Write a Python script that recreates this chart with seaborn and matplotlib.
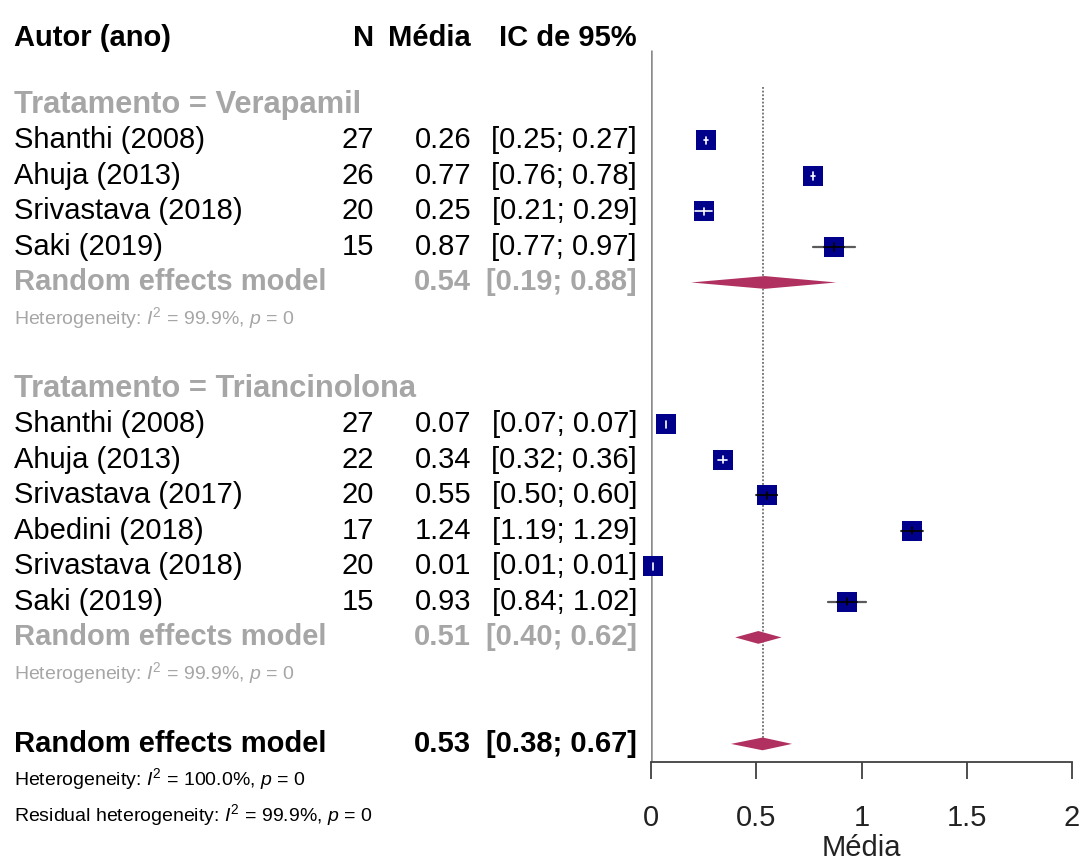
import matplotlib
matplotlib.use("Agg")
import matplotlib.pyplot as plt
import seaborn as sns
import pandas as pd
from matplotlib.transforms import blended_transform_factory

# ---- data -------------------------------------------------------------
vera_authors = ["Shanthi (2008)", "Ahuja (2013)", "Srivastava (2018)", "Saki (2019)"]
vera_n = [27, 26, 20, 15]
vera_mean = [0.26, 0.77, 0.25, 0.87]
vera_lower = [0.25, 0.76, 0.21, 0.77]
vera_upper = [0.27, 0.78, 0.29, 0.97]

tri_authors = ["Shanthi (2008)", "Ahuja (2013)", "Srivastava (2017)",
               "Abedini (2018)", "Srivastava (2018)", "Saki (2019)"]
tri_n = [27, 22, 20, 17, 20, 15]
tri_mean = [0.07, 0.34, 0.55, 1.24, 0.01, 0.93]
tri_lower = [0.07, 0.32, 0.50, 1.19, 0.01, 0.84]
tri_upper = [0.07, 0.36, 0.60, 1.29, 0.01, 1.02]

group_names = ["Verapamil", "Triancinolona"]
group_pooled = [0.54, 0.51]
group_lower = [0.19, 0.40]
group_upper = [0.88, 0.62]
group_i2 = ["99.9%", "99.9%"]

overall_pooled = 0.53
overall_lower = 0.38
overall_upper = 0.67
overall_i2 = "100.0%"
residual_i2 = "99.9%"

x_ticks = [0, 0.5, 1, 1.5, 2]

# ---- style ------------------------------------------------------------
sns.set_theme(style="white")
plt.rcParams["font.family"] = ["Liberation Sans", "DejaVu Sans"]
plt.rcParams["mathtext.fontset"] = "custom"
plt.rcParams["mathtext.rm"] = "Liberation Sans"
plt.rcParams["mathtext.it"] = "Liberation Sans:italic"

SQUARE = "#00008B"
DIAMOND = "#B03060"
GREY_TXT = "#A6A6A6"
FS = 21
FS_GROUP = 22.2
FS_SMALL = 14

W, H = 1081, 863
fig = plt.figure(figsize=(W / 100, H / 100), dpi=100)
ax = fig.add_axes([651 / W, (H - 762) / H, 421 / W, 762 / H])

# ---- row layout -------------------------------------------------------
studies = []
text_rows = []
row = 0
blocks = [(vera_authors, vera_n, vera_mean, vera_lower, vera_upper),
          (tri_authors, tri_n, tri_mean, tri_lower, tri_upper)]
pooled_rows = []
for g, (auth, ns, mn, lo, hi) in enumerate(blocks):
    text_rows.append(("group", row, f"Tratamento = {group_names[g]}"))
    row += 1
    for a, n, m, l, u in zip(auth, ns, mn, lo, hi):
        studies.append(dict(author=a, n=n, mean=m, lower=l, upper=u, row=row))
        row += 1
    pooled_rows.append(row)
    row += 1
    text_rows.append(("het", row, group_i2[g]))
    row += 2
overall_row = row

df = pd.DataFrame(studies)

ROW_TOP = -2.958
ROW_BOTTOM = 18.51
ax.set_ylim(ROW_BOTTOM, ROW_TOP)
ax.set_xlim(0, 2)

# reference lines
ax.plot([0, 0], [-1.55, ROW_BOTTOM], color="#8c8c8c", lw=1.8, zorder=1,
        solid_capstyle="butt")
ax.plot([overall_pooled, overall_pooled], [-0.5, overall_row], color="#555555",
        lw=1.1, ls=(0, (1.2, 1.2)), zorder=1)

# confidence intervals and squares
half_w = 10 / 210.5
for _, r in df.iterrows():
    ax.plot([r["lower"], r["upper"]], [r["row"], r["row"]], color="#5a5a5a",
            lw=1.6, zorder=2, clip_on=False)
sns.scatterplot(data=df, x="mean", y="row", marker="s", s=207, color=SQUARE,
                linewidth=0, ax=ax, zorder=3, clip_on=False, legend=False)
for _, r in df.iterrows():
    inside = (r["upper"] - r["lower"]) / 2 < half_w
    c = "white" if inside else "black"
    l = max(r["lower"], r["mean"] - half_w)
    u = min(r["upper"], r["mean"] + half_w)
    ax.plot([l, u], [r["row"], r["row"]], color=c, lw=1.2, zorder=4, clip_on=False)
    ax.plot([r["mean"], r["mean"]], [r["row"] - 0.1, r["row"] + 0.1], color=c,
            lw=1.2, zorder=4, clip_on=False)

# diamonds
def diamond(est, lo, hi, y):
    ax.fill([lo, est, hi, est], [y, y - 0.18, y, y + 0.18], color=DIAMOND,
            lw=0, zorder=3, clip_on=False)

for g in range(2):
    diamond(group_pooled[g], group_lower[g], group_upper[g], pooled_rows[g])
diamond(overall_pooled, overall_lower, overall_upper, overall_row)

# axis
for s in ["top", "right", "left"]:
    ax.spines[s].set_visible(False)
ax.spines["bottom"].set_color("#404040")
ax.spines["bottom"].set_linewidth(1.3)
ax.set_yticks([])
ax.set_ylabel("")
ax.set_xticks(x_ticks)
ax.set_xticklabels(["0", "0.5", "1", "1.5", "2"])
ax.tick_params(axis="x", direction="out", length=12, width=1.3, color="#404040",
               labelsize=FS, pad=18, bottom=True, labelcolor="#222222")
ax.set_xlabel("Média", fontsize=FS, labelpad=2, color="#222222")

# ---- text columns ------------------------------------------------------
tr = blended_transform_factory(fig.transFigure, ax.transData)
X_LAB = 14 / W
X_N = 374 / W
X_M = 471 / W
X_CI = 637 / W

def put(x, y, s, ha="left", color="black", weight="normal", size=FS):
    ax.text(x, y, s, transform=tr, ha=ha, va="center", color=color,
            fontweight=weight, fontsize=size, clip_on=False)

HEAD = -1.9
put(X_LAB, HEAD, "Autor (ano)", weight="bold")
put(X_N, HEAD, "N", ha="right", weight="bold")
put(X_M, HEAD, "Média", ha="right", weight="bold")
put(X_CI, HEAD, "IC de 95%", ha="right", weight="bold")

for kind, r, s in text_rows:
    if kind == "group":
        put(X_LAB, r, s, color=GREY_TXT, weight="bold", size=FS_GROUP)
    else:
        put(X_LAB, r, rf"Heterogeneity: $I^2$ = {s}, $p$ = 0", color=GREY_TXT,
            size=FS_SMALL)

for _, r in df.iterrows():
    put(X_LAB, r["row"], r["author"])
    put(X_N, r["row"], f"{r['n']}", ha="right")
    put(X_M, r["row"], f"{r['mean']:.2f}", ha="right")
    put(X_CI, r["row"], f"[{r['lower']:.2f}; {r['upper']:.2f}]", ha="right")

for g in range(2):
    y = pooled_rows[g]
    put(X_LAB, y, "Random effects model", color=GREY_TXT, weight="bold")
    put(X_M, y, f"{group_pooled[g]:.2f}", ha="right", color=GREY_TXT, weight="bold")
    put(X_CI, y, f"[{group_lower[g]:.2f}; {group_upper[g]:.2f}]", ha="right",
        color=GREY_TXT, weight="bold")

put(X_LAB, overall_row, "Random effects model", weight="bold")
put(X_M, overall_row, f"{overall_pooled:.2f}", ha="right", weight="bold")
put(X_CI, overall_row, f"[{overall_lower:.2f}; {overall_upper:.2f}]", ha="right",
    weight="bold")
put(X_LAB, overall_row + 1, rf"Heterogeneity: $I^2$ = {overall_i2}, $p$ = 0",
    size=FS_SMALL)
put(X_LAB, overall_row + 2,
    rf"Residual heterogeneity: $I^2$ = {residual_i2}, $p$ = 0", size=FS_SMALL)

fig.savefig("out.png", dpi=100, facecolor="white")
